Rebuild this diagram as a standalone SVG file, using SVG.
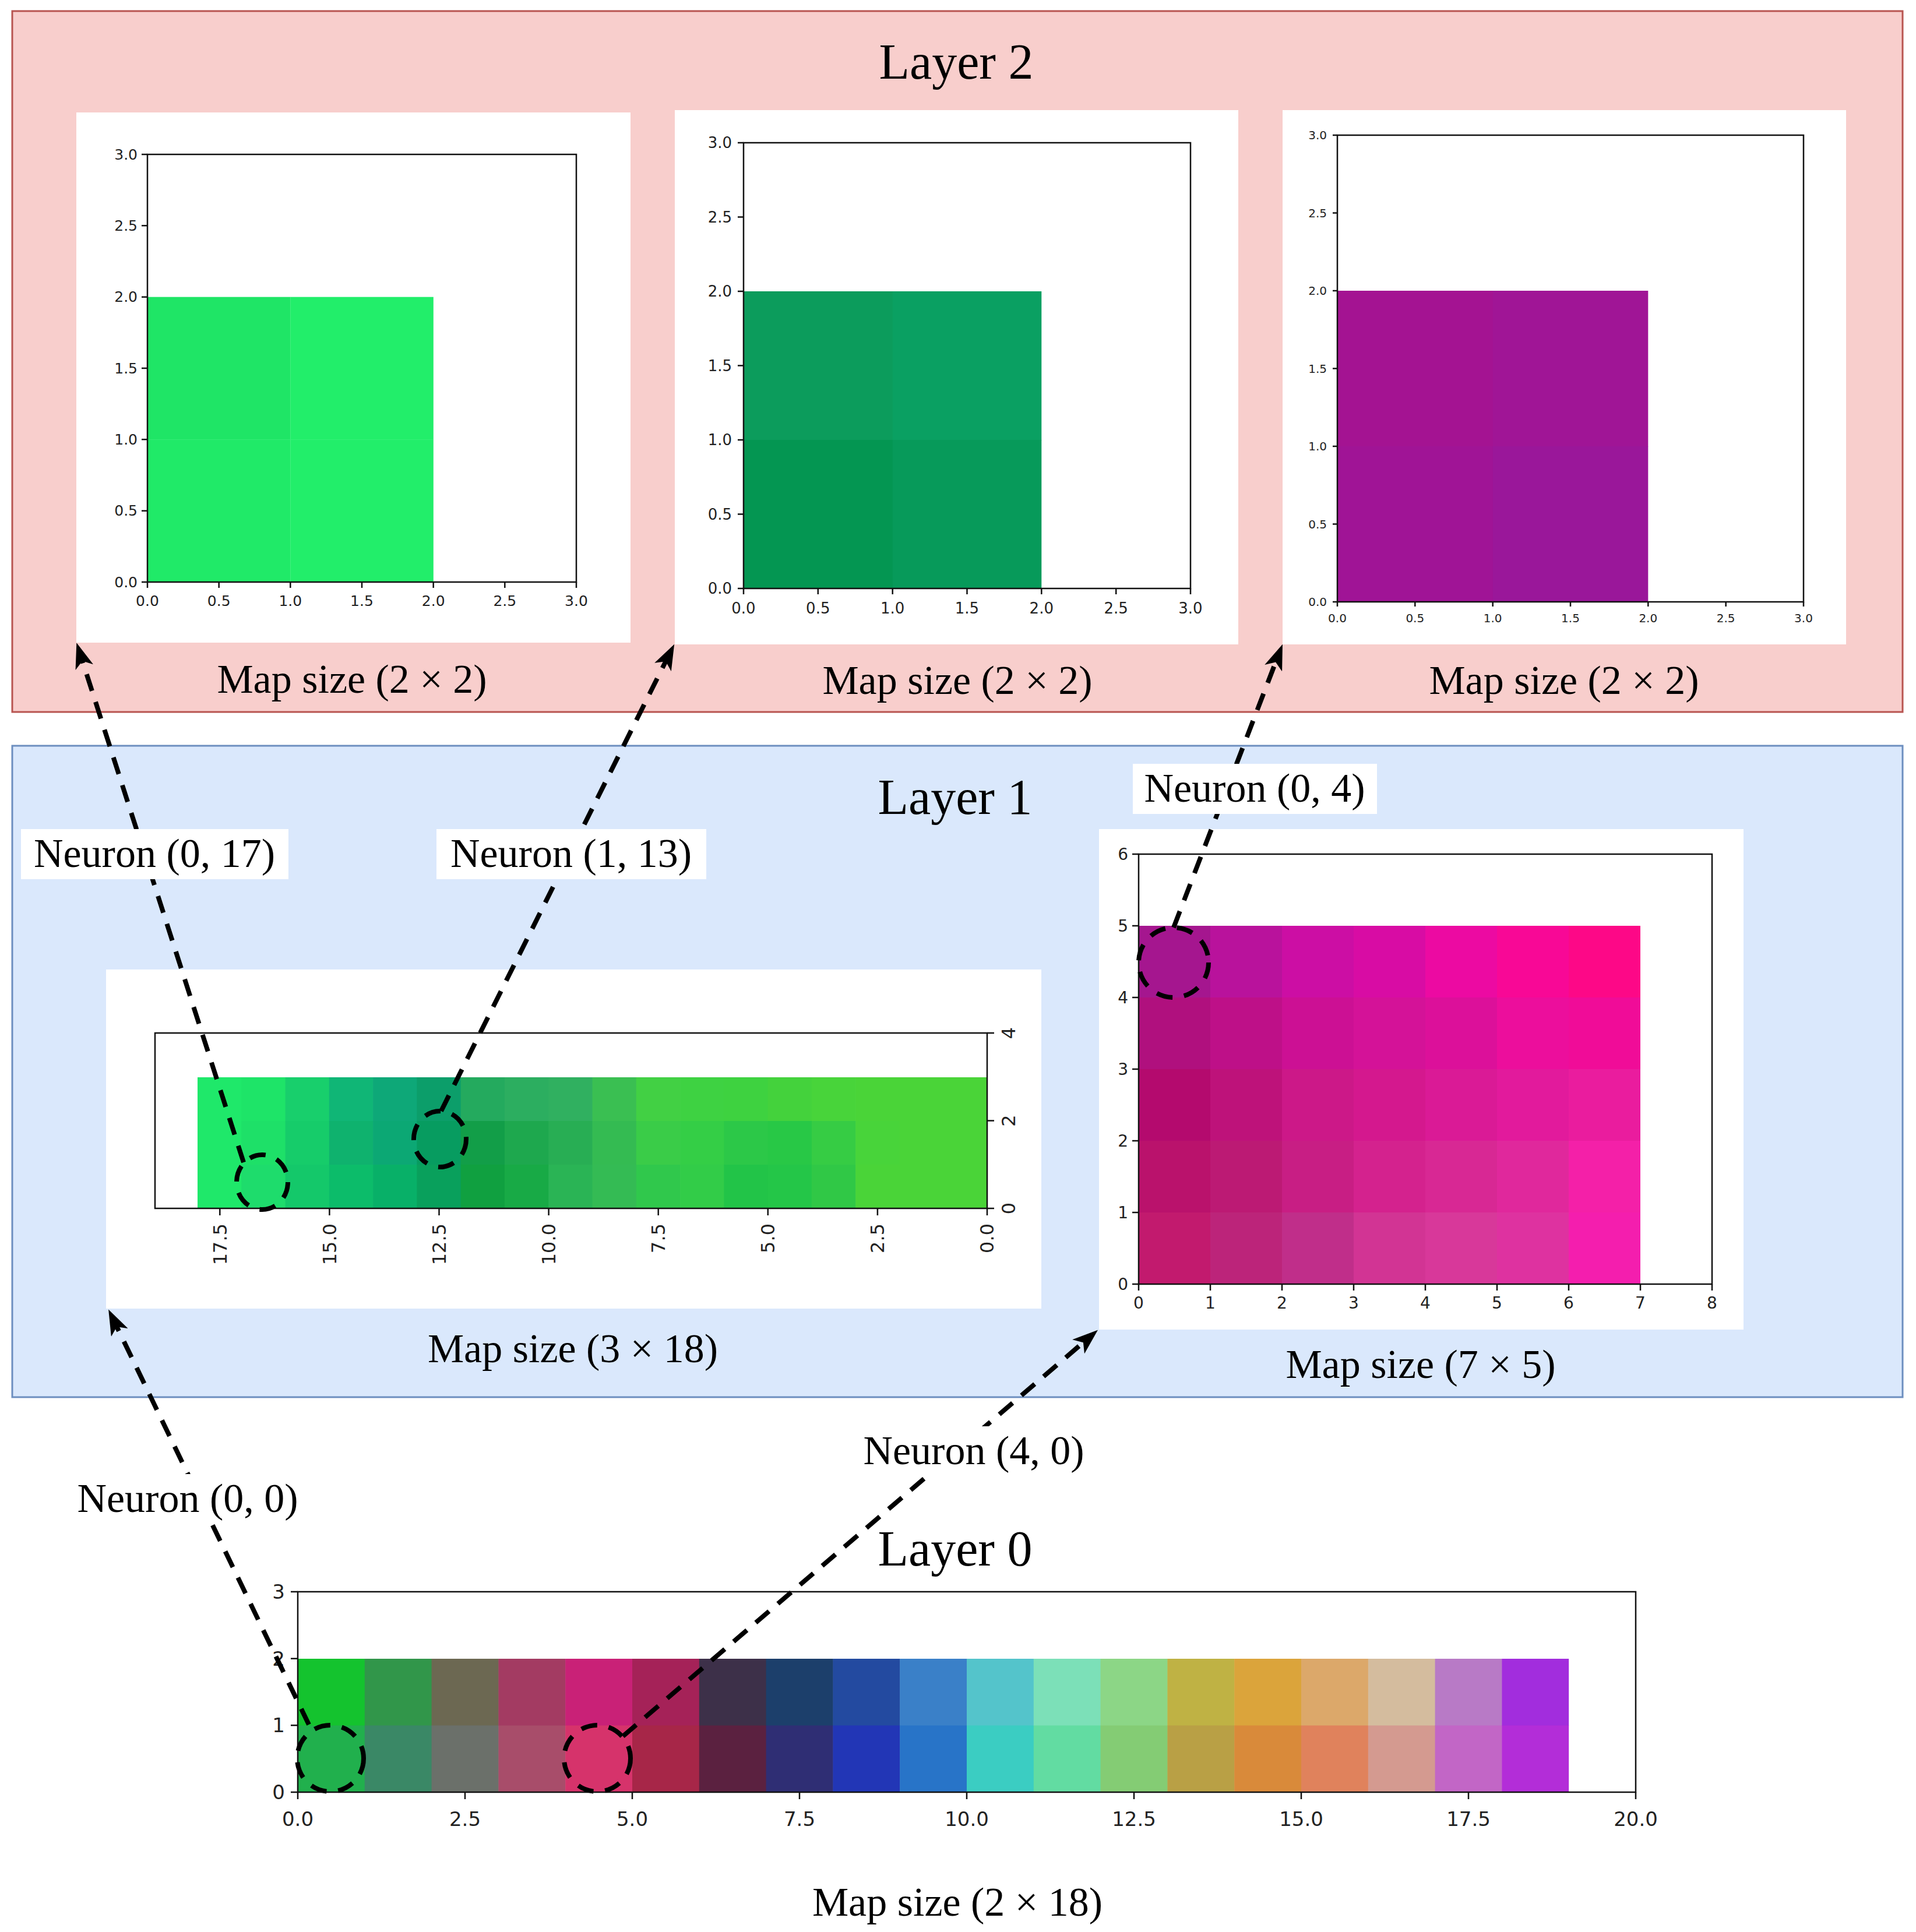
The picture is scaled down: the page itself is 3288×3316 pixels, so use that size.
<svg xmlns="http://www.w3.org/2000/svg" width="3288" height="3316" viewBox="0 0 3288 3316">
<style>
.lbl{font-family:"Liberation Serif","Times New Roman",serif;font-size:70px;fill:#000;text-anchor:middle}
.title{font-size:86px}
.tk{font-family:"DejaVu Sans",sans-serif;fill:#222}
.axis{fill:none;stroke:#111;stroke-width:2.5}
.tm{fill:none;stroke:#111;stroke-width:2.5}
.conn{fill:none;stroke:#000;stroke-width:8;stroke-dasharray:30 20}
.ring{fill:none;stroke:#000;stroke-width:8;stroke-dasharray:28 20}
.panel{fill:#fff}
.lblbox{fill:#fff}
</style>
<defs>
<marker id="arr" viewBox="0 0 44 32" refX="19" refY="16" markerWidth="44" markerHeight="32" markerUnits="userSpaceOnUse" orient="auto">
<path d="M0,0 L44,16 L0,32 L11,16 z" fill="#000"/>
</marker>
</defs>
<rect width="3288" height="3316" fill="#fff"/>

<g id="layer2">
<rect x="21" y="19" width="3244" height="1203" fill="#f8cecc" stroke="#b85450" stroke-width="3"/>
<text class="lbl title" x="1641" y="135">Layer 2</text>
</g>

<g id="layer1">
<rect x="21" y="1280" width="3244" height="1118" fill="#dae8fc" stroke="#6c8ebf" stroke-width="3"/>
<text class="lbl title" x="1639" y="1397">Layer 1</text>
</g>

<g id="layer0">
<text class="lbl title" x="1639" y="2687">Layer 0</text>
</g>

<g id="l2-map1">
<rect class="panel" x="131" y="193" width="951" height="910"/>
<rect x="253" y="509.7" width="245.5" height="245" fill="#1fe566"/>
<rect x="498.3" y="509.7" width="245.5" height="245" fill="#22ee6a"/>
<rect x="253" y="754.3" width="245.5" height="244.7" fill="#20ea68"/>
<rect x="498.3" y="754.3" width="245.5" height="244.7" fill="#22ee6a"/>
<rect class="axis" x="253" y="265" width="736" height="734"/>
<path class="tm" d="M253 999v10M375.7 999v10M498.3 999v10M621 999v10M743.7 999v10M866.3 999v10M989 999v10M243 999h10M243 876.7h10M243 754.3h10M243 632h10M243 509.7h10M243 387.3h10M243 265h10"/>
<g class="tk" font-size="25" text-anchor="middle">
<text x="253" y="1040">0.0</text><text x="375.7" y="1040">0.5</text><text x="498.3" y="1040">1.0</text><text x="621" y="1040">1.5</text><text x="743.7" y="1040">2.0</text><text x="866.3" y="1040">2.5</text><text x="989" y="1040">3.0</text>
</g>
<g class="tk" font-size="25" text-anchor="end">
<text x="236" y="999" dy="0.35em">0.0</text><text x="236" y="876.7" dy="0.35em">0.5</text><text x="236" y="754.3" dy="0.35em">1.0</text><text x="236" y="632" dy="0.35em">1.5</text><text x="236" y="509.7" dy="0.35em">2.0</text><text x="236" y="387.3" dy="0.35em">2.5</text><text x="236" y="265" dy="0.35em">3.0</text>
</g>
<text class="lbl" x="604" y="1189">Map size (2 × 2)</text>
</g>

<g id="l2-map2">
<rect class="panel" x="1158" y="189" width="967" height="917"/>
<rect x="1276" y="500" width="256" height="255.5" fill="#0c9c5c"/>
<rect x="1531.7" y="500" width="255.6" height="255.5" fill="#0aa062"/>
<rect x="1276" y="755" width="256" height="255" fill="#049652"/>
<rect x="1531.7" y="755" width="255.6" height="255" fill="#079a5a"/>
<rect class="axis" x="1276" y="245" width="767" height="765"/>
<path class="tm" d="M1276 1010v10M1403.8 1010v10M1531.7 1010v10M1659.5 1010v10M1787.3 1010v10M1915.2 1010v10M2043 1010v10M1266 1010h10M1266 882.5h10M1266 755h10M1266 627.5h10M1266 500h10M1266 372.5h10M1266 245h10"/>
<g class="tk" font-size="26" text-anchor="middle">
<text x="1276" y="1053">0.0</text><text x="1403.8" y="1053">0.5</text><text x="1531.7" y="1053">1.0</text><text x="1659.5" y="1053">1.5</text><text x="1787.3" y="1053">2.0</text><text x="1915.2" y="1053">2.5</text><text x="2043" y="1053">3.0</text>
</g>
<g class="tk" font-size="26" text-anchor="end">
<text x="1256" y="1010" dy="0.35em">0.0</text><text x="1256" y="882.5" dy="0.35em">0.5</text><text x="1256" y="755" dy="0.35em">1.0</text><text x="1256" y="627.5" dy="0.35em">1.5</text><text x="1256" y="500" dy="0.35em">2.0</text><text x="1256" y="372.5" dy="0.35em">2.5</text><text x="1256" y="245" dy="0.35em">3.0</text>
</g>
<text class="lbl" x="1643" y="1191">Map size (2 × 2)</text>
</g>

<g id="l2-map3">
<rect class="panel" x="2201" y="189" width="967" height="917"/>
<rect x="2295" y="499" width="267" height="267.5" fill="#a41392"/>
<rect x="2561.7" y="499" width="266.6" height="267.5" fill="#a01596"/>
<rect x="2295" y="766" width="267" height="267" fill="#a01496"/>
<rect x="2561.7" y="766" width="266.6" height="267" fill="#9a179a"/>
<rect class="axis" x="2295" y="232" width="800" height="801" stroke-width="2"/>
<path class="tm" stroke-width="2" d="M2295 1033v8M2428.3 1033v8M2561.7 1033v8M2695 1033v8M2828.3 1033v8M2961.7 1033v8M3095 1033v8M2287 1033h8M2287 899.5h8M2287 766h8M2287 632.5h8M2287 499h8M2287 365.5h8M2287 232h8"/>
<g class="tk" font-size="20" text-anchor="middle">
<text x="2295" y="1068">0.0</text><text x="2428.3" y="1068">0.5</text><text x="2561.7" y="1068">1.0</text><text x="2695" y="1068">1.5</text><text x="2828.3" y="1068">2.0</text><text x="2961.7" y="1068">2.5</text><text x="3095" y="1068">3.0</text>
</g>
<g class="tk" font-size="20" text-anchor="end">
<text x="2277" y="1033" dy="0.35em">0.0</text><text x="2277" y="899.5" dy="0.35em">0.5</text><text x="2277" y="766" dy="0.35em">1.0</text><text x="2277" y="632.5" dy="0.35em">1.5</text><text x="2277" y="499" dy="0.35em">2.0</text><text x="2277" y="365.5" dy="0.35em">2.5</text><text x="2277" y="232" dy="0.35em">3.0</text>
</g>
<text class="lbl" x="2684" y="1191">Map size (2 × 2)</text>
</g>

<g id="l1-map-left">
<rect class="panel" x="182" y="1664" width="1605" height="582"/>
<g>
<rect x="339" y="1849" width="76" height="75.5" fill="#1fe86a"/><rect x="339" y="1924" width="76" height="75.5" fill="#1fe86a"/><rect x="339" y="1999" width="76" height="75" fill="#1fe86a"/>
<rect x="414.3" y="1849" width="76" height="75.5" fill="#1ee468"/><rect x="414.3" y="1924" width="76" height="75.5" fill="#1ee068"/><rect x="414.3" y="1999" width="76" height="75" fill="#1edc6c"/>
<rect x="489.6" y="1849" width="76" height="75.5" fill="#18cf6c"/><rect x="489.6" y="1924" width="76" height="75.5" fill="#16cc6a"/><rect x="489.6" y="1999" width="76" height="75" fill="#14c86a"/>
<rect x="564.8" y="1849" width="76" height="75.5" fill="#10b676"/><rect x="564.8" y="1924" width="76" height="75.5" fill="#0fb26e"/><rect x="564.8" y="1999" width="76" height="75" fill="#0cbc6a"/>
<rect x="640.1" y="1849" width="76" height="75.5" fill="#0ea878"/><rect x="640.1" y="1924" width="76" height="75.5" fill="#0ca874"/><rect x="640.1" y="1999" width="76" height="75" fill="#08b068"/>
<rect x="715.4" y="1849" width="76" height="75.5" fill="#0c9e6a"/><rect x="715.4" y="1924" width="76" height="75.5" fill="#079c60"/><rect x="715.4" y="1999" width="76" height="75" fill="#09a05c"/>
<rect x="790.7" y="1849" width="76" height="75.5" fill="#24aa5e"/><rect x="790.7" y="1924" width="76" height="75.5" fill="#129e48"/><rect x="790.7" y="1999" width="76" height="75" fill="#10a040"/>
<rect x="866" y="1849" width="76" height="75.5" fill="#2cae60"/><rect x="866" y="1924" width="76" height="75.5" fill="#1ea84e"/><rect x="866" y="1999" width="76" height="75" fill="#18aa46"/>
<rect x="941.2" y="1849" width="76" height="75.5" fill="#30b060"/><rect x="941.2" y="1924" width="76" height="75.5" fill="#28ae54"/><rect x="941.2" y="1999" width="76" height="75" fill="#2ab455"/>
<rect x="1016.5" y="1849" width="76" height="75.5" fill="#3abf52"/><rect x="1016.5" y="1924" width="76" height="75.5" fill="#34bb52"/><rect x="1016.5" y="1999" width="76" height="75" fill="#34bb54"/>
<rect x="1091.8" y="1849" width="76" height="75.5" fill="#42d044"/><rect x="1091.8" y="1924" width="76" height="75.5" fill="#3acc48"/><rect x="1091.8" y="1999" width="76" height="75" fill="#30c84c"/>
<rect x="1167.1" y="1849" width="76" height="75.5" fill="#3ed242"/><rect x="1167.1" y="1924" width="76" height="75.5" fill="#34ce46"/><rect x="1167.1" y="1999" width="76" height="75" fill="#32cc48"/>
<rect x="1242.4" y="1849" width="76" height="75.5" fill="#3ed240"/><rect x="1242.4" y="1924" width="76" height="75.5" fill="#2cc848"/><rect x="1242.4" y="1999" width="76" height="75" fill="#22c448"/>
<rect x="1317.6" y="1849" width="76" height="75.5" fill="#44d23c"/><rect x="1317.6" y="1924" width="76" height="75.5" fill="#28c846"/><rect x="1317.6" y="1999" width="76" height="75" fill="#24c648"/>
<rect x="1392.9" y="1849" width="76" height="75.5" fill="#48d43a"/><rect x="1392.9" y="1924" width="76" height="75.5" fill="#36cc44"/><rect x="1392.9" y="1999" width="76" height="75" fill="#30c846"/>
<rect x="1468.2" y="1849" width="76" height="75.5" fill="#4ad438"/><rect x="1468.2" y="1924" width="76" height="75.5" fill="#48d43a"/><rect x="1468.2" y="1999" width="76" height="75" fill="#4ad438"/>
<rect x="1543.5" y="1849" width="150.5" height="225" fill="#4ad438"/>
</g>
<rect class="axis" x="266" y="1773" width="1428" height="301"/>
<path class="tm" d="M1694 2074v12M1505.9 2074v12M1317.8 2074v12M1129.7 2074v12M941.6 2074v12M753.5 2074v12M565.4 2074v12M377.3 2074v12M1694 2074h12M1694 1923.5h12M1694 1773h12"/>
<g class="tk" font-size="32" text-anchor="end">
<text transform="translate(1694,2100) rotate(-90)" dy="0.35em">0.0</text>
<text transform="translate(1505.9,2100) rotate(-90)" dy="0.35em">2.5</text>
<text transform="translate(1317.8,2100) rotate(-90)" dy="0.35em">5.0</text>
<text transform="translate(1129.7,2100) rotate(-90)" dy="0.35em">7.5</text>
<text transform="translate(941.6,2100) rotate(-90)" dy="0.35em">10.0</text>
<text transform="translate(753.5,2100) rotate(-90)" dy="0.35em">12.5</text>
<text transform="translate(565.4,2100) rotate(-90)" dy="0.35em">15.0</text>
<text transform="translate(377.3,2100) rotate(-90)" dy="0.35em">17.5</text>
</g>
<g class="tk" font-size="32" text-anchor="middle">
<text transform="translate(1731,2074) rotate(-90)" dy="0.35em">0</text>
<text transform="translate(1731,1923.5) rotate(-90)" dy="0.35em">2</text>
<text transform="translate(1731,1773) rotate(-90)" dy="0.35em">4</text>
</g>
<text class="lbl" x="983" y="2338">Map size (3 × 18)</text>
</g>

<g id="l1-map-right">
<rect class="panel" x="1886" y="1423" width="1106" height="859"/>
<g>
<rect x="1954" y="1589" width="123.5" height="123.5" fill="#a5168f"/><rect x="2077" y="1589" width="123.5" height="123.5" fill="#b9129c"/><rect x="2200" y="1589" width="123.5" height="123.5" fill="#cc0ea4"/><rect x="2323" y="1589" width="123.5" height="123.5" fill="#d80ca4"/><rect x="2446" y="1589" width="123.5" height="123.5" fill="#ec0aa2"/><rect x="2569" y="1589" width="123.5" height="123.5" fill="#f80896"/><rect x="2692" y="1589" width="123" height="123.5" fill="#fd0887"/>
<rect x="1954" y="1712" width="123.5" height="123.5" fill="#b0107e"/><rect x="2077" y="1712" width="123.5" height="123.5" fill="#be1088"/><rect x="2200" y="1712" width="123.5" height="123.5" fill="#cc1094"/><rect x="2323" y="1712" width="123.5" height="123.5" fill="#d41298"/><rect x="2446" y="1712" width="123.5" height="123.5" fill="#dc109a"/><rect x="2569" y="1712" width="123.5" height="123.5" fill="#ec0e9c"/><rect x="2692" y="1712" width="123" height="123.5" fill="#f00c98"/>
<rect x="1954" y="1835" width="123.5" height="123.5" fill="#b40a6e"/><rect x="2077" y="1835" width="123.5" height="123.5" fill="#be127a"/><rect x="2200" y="1835" width="123.5" height="123.5" fill="#cc1888"/><rect x="2323" y="1835" width="123.5" height="123.5" fill="#d4188e"/><rect x="2446" y="1835" width="123.5" height="123.5" fill="#da1a96"/><rect x="2569" y="1835" width="123.5" height="123.5" fill="#e21a9c"/><rect x="2692" y="1835" width="123" height="123.5" fill="#ea1c9e"/>
<rect x="1954" y="1958" width="123.5" height="123.5" fill="#ba126c"/><rect x="2077" y="1958" width="123.5" height="123.5" fill="#bc1a74"/><rect x="2200" y="1958" width="123.5" height="123.5" fill="#c81e84"/><rect x="2323" y="1958" width="123.5" height="123.5" fill="#d4228e"/><rect x="2446" y="1958" width="123.5" height="123.5" fill="#d82894"/><rect x="2569" y="1958" width="123.5" height="123.5" fill="#e0289c"/><rect x="2692" y="1958" width="123" height="123.5" fill="#f420a8"/>
<rect x="1954" y="2081" width="123.5" height="123" fill="#c21a6e"/><rect x="2077" y="2081" width="123.5" height="123" fill="#bc247a"/><rect x="2200" y="2081" width="123.5" height="123" fill="#c02e8a"/><rect x="2323" y="2081" width="123.5" height="123" fill="#d23494"/><rect x="2446" y="2081" width="123.5" height="123" fill="#d8389a"/><rect x="2569" y="2081" width="123.5" height="123" fill="#de32a0"/><rect x="2692" y="2081" width="123" height="123" fill="#f41eae"/>
</g>
<rect class="axis" x="1954" y="1466" width="984" height="738"/>
<path class="tm" d="M1954 2204v11M2077 2204v11M2200 2204v11M2323 2204v11M2446 2204v11M2569 2204v11M2692 2204v11M2815 2204v11M2938 2204v11M1943 2204h11M1943 2081h11M1943 1958h11M1943 1835h11M1943 1712h11M1943 1589h11M1943 1466h11"/>
<g class="tk" font-size="28" text-anchor="middle">
<text x="1954" y="2246">0</text><text x="2077" y="2246">1</text><text x="2200" y="2246">2</text><text x="2323" y="2246">3</text><text x="2446" y="2246">4</text><text x="2569" y="2246">5</text><text x="2692" y="2246">6</text><text x="2815" y="2246">7</text><text x="2938" y="2246">8</text>
</g>
<g class="tk" font-size="28" text-anchor="end">
<text x="1936" y="2204" dy="0.35em">0</text><text x="1936" y="2081" dy="0.35em">1</text><text x="1936" y="1958" dy="0.35em">2</text><text x="1936" y="1835" dy="0.35em">3</text><text x="1936" y="1712" dy="0.35em">4</text><text x="1936" y="1589" dy="0.35em">5</text><text x="1936" y="1466" dy="0.35em">6</text>
</g>
<text class="lbl" x="2438" y="2365">Map size (7 × 5)</text>
</g>

<g id="l0-map">
<g>
<rect x="511" y="2847" width="115.3" height="115" fill="#14c32e"/><rect x="511" y="2961.5" width="115.3" height="114.5" fill="#21b04d"/>
<rect x="625.8" y="2847" width="115.3" height="115" fill="#31964a"/><rect x="625.8" y="2961.5" width="115.3" height="114.5" fill="#3a8866"/>
<rect x="740.6" y="2847" width="115.3" height="115" fill="#6c6852"/><rect x="740.6" y="2961.5" width="115.3" height="114.5" fill="#6b706a"/>
<rect x="855.4" y="2847" width="115.3" height="115" fill="#a33b62"/><rect x="855.4" y="2961.5" width="115.3" height="114.5" fill="#a84d6a"/>
<rect x="970.2" y="2847" width="115.3" height="115" fill="#c92177"/><rect x="970.2" y="2961.5" width="115.3" height="114.5" fill="#d6336b"/>
<rect x="1085" y="2847" width="115.3" height="115" fill="#a52258"/><rect x="1085" y="2961.5" width="115.3" height="114.5" fill="#a72648"/>
<rect x="1199.8" y="2847" width="115.3" height="115" fill="#3d3049"/><rect x="1199.8" y="2961.5" width="115.3" height="114.5" fill="#5b2140"/>
<rect x="1314.6" y="2847" width="115.3" height="115" fill="#1c3f6b"/><rect x="1314.6" y="2961.5" width="115.3" height="114.5" fill="#2f2e74"/>
<rect x="1429.4" y="2847" width="115.3" height="115" fill="#234aa0"/><rect x="1429.4" y="2961.5" width="115.3" height="114.5" fill="#2236b6"/>
<rect x="1544.2" y="2847" width="115.3" height="115" fill="#3a80c8"/><rect x="1544.2" y="2961.5" width="115.3" height="114.5" fill="#2874c8"/>
<rect x="1659" y="2847" width="115.3" height="115" fill="#54c4cb"/><rect x="1659" y="2961.5" width="115.3" height="114.5" fill="#3bcdc2"/>
<rect x="1773.8" y="2847" width="115.3" height="115" fill="#7ce0b8"/><rect x="1773.8" y="2961.5" width="115.3" height="114.5" fill="#62dca2"/>
<rect x="1888.6" y="2847" width="115.3" height="115" fill="#8cd686"/><rect x="1888.6" y="2961.5" width="115.3" height="114.5" fill="#84cc74"/>
<rect x="2003.4" y="2847" width="115.3" height="115" fill="#bfb244"/><rect x="2003.4" y="2961.5" width="115.3" height="114.5" fill="#b9a045"/>
<rect x="2118.2" y="2847" width="115.3" height="115" fill="#dba43b"/><rect x="2118.2" y="2961.5" width="115.3" height="114.5" fill="#d98a3a"/>
<rect x="2233" y="2847" width="115.3" height="115" fill="#dca86a"/><rect x="2233" y="2961.5" width="115.3" height="114.5" fill="#e0825c"/>
<rect x="2347.8" y="2847" width="115.3" height="115" fill="#d4bc9e"/><rect x="2347.8" y="2961.5" width="115.3" height="114.5" fill="#d49a90"/>
<rect x="2462.6" y="2847" width="115.3" height="115" fill="#b87ac6"/><rect x="2462.6" y="2961.5" width="115.3" height="114.5" fill="#c266c6"/>
<rect x="2577.4" y="2847" width="114.8" height="115" fill="#a22ddd"/><rect x="2577.4" y="2961.5" width="114.8" height="114.5" fill="#b32dd8"/>
</g>
<rect class="axis" x="511" y="2732" width="2296" height="344"/>
<path class="tm" d="M511 3076v12M798 3076v12M1085 3076v12M1372 3076v12M1659 3076v12M1946 3076v12M2233 3076v12M2520 3076v12M2807 3076v12M499 3076h12M499 2961.3h12M499 2846.7h12M499 2732h12"/>
<g class="tk" font-size="34" text-anchor="middle">
<text x="511" y="3134">0.0</text><text x="798" y="3134">2.5</text><text x="1085" y="3134">5.0</text><text x="1372" y="3134">7.5</text><text x="1659" y="3134">10.0</text><text x="1946" y="3134">12.5</text><text x="2233" y="3134">15.0</text><text x="2520" y="3134">17.5</text><text x="2807" y="3134">20.0</text>
</g>
<g class="tk" font-size="34" text-anchor="end">
<text x="489" y="3076" dy="0.35em">0</text><text x="489" y="2961.3" dy="0.35em">1</text><text x="489" y="2846.7" dy="0.35em">2</text><text x="489" y="2732" dy="0.35em">3</text>
</g>
<text class="lbl" x="1643" y="3288">Map size (2 × 18)</text>
</g>

<g id="selected-neurons">
<circle class="ring" cx="567" cy="3018" r="57"/>
<circle class="ring" cx="1025" cy="3018" r="57"/>
<ellipse class="ring" cx="450" cy="2029" rx="44" ry="47"/>
<ellipse class="ring" cx="755" cy="1955" rx="45" ry="48"/>
<circle class="ring" cx="2014" cy="1652" r="60"/>
</g>

<g id="connectors">
<line class="conn" x1="530" y1="2960" x2="197" y2="2270" marker-end="url(#arr)"/>
<line class="conn" x1="418" y1="1995" x2="139" y2="1127" marker-end="url(#arr)"/>
<line class="conn" x1="757" y1="1907" x2="1146" y2="1128" marker-end="url(#arr)"/>
<line class="conn" x1="2014" y1="1592" x2="2192" y2="1129" marker-end="url(#arr)"/>
<line class="conn" x1="1069" y1="2980" x2="1865" y2="2299" marker-end="url(#arr)"/>
</g>

<g id="label-n0-17">
<rect class="lblbox" x="36" y="1423" width="459" height="86"/>
<text class="lbl" x="265" y="1488">Neuron (0, 17)</text>
</g>
<g id="label-n1-13">
<rect class="lblbox" x="749" y="1423" width="463" height="86"/>
<text class="lbl" x="980" y="1488">Neuron (1, 13)</text>
</g>
<g id="label-n0-4">
<rect class="lblbox" x="1944" y="1311" width="419" height="86"/>
<text class="lbl" x="2153" y="1376">Neuron (0, 4)</text>
</g>
<g id="label-n4-0">
<rect class="lblbox" x="1464" y="2448" width="414" height="86"/>
<text class="lbl" x="1671" y="2513">Neuron (4, 0)</text>
</g>
<g id="label-n0-0">
<rect class="lblbox" x="114" y="2530" width="416" height="86"/>
<text class="lbl" x="322" y="2595">Neuron (0, 0)</text>
</g>
</svg>
